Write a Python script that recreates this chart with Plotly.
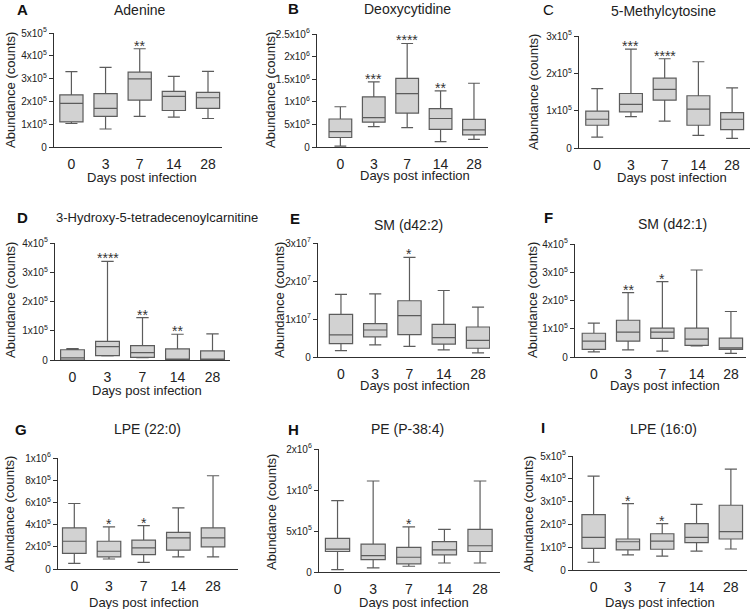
import plotly.graph_objects as go

W, H = 750, 609
days = ["0", "3", "7", "14", "28"]

# ---- data: lower whisker, Q1, median, Q3, upper whisker per day ----
A_lo = [1.03e5, 0.79e5, 1.34e5, 1.31e5, 1.25e5]
A_q1 = [1.10e5, 1.34e5, 2.06e5, 1.60e5, 1.69e5]
A_md = [1.91e5, 1.69e5, 2.99e5, 2.22e5, 2.16e5]
A_q3 = [2.29e5, 2.34e5, 3.28e5, 2.44e5, 2.40e5]
A_hi = [3.31e5, 3.49e5, 4.31e5, 3.10e5, 3.32e5]
A_st = ["", "", "**", "", ""]

B_lo = [0.02e6, 0.45e6, 0.43e6, 0.12e6, 0.17e6]
B_q1 = [0.21e6, 0.55e6, 0.75e6, 0.39e6, 0.27e6]
B_md = [0.34e6, 0.65e6, 1.18e6, 0.63e6, 0.38e6]
B_q3 = [0.62e6, 1.11e6, 1.52e6, 0.85e6, 0.61e6]
B_hi = [0.89e6, 1.44e6, 2.29e6, 1.24e6, 1.41e6]
B_st = ["", "***", "****", "**", ""]

C_lo = [0.29e5, 0.84e5, 0.72e5, 0.34e5, 0.26e5]
C_q1 = [0.61e5, 0.97e5, 1.28e5, 0.61e5, 0.49e5]
C_md = [0.77e5, 1.17e5, 1.57e5, 1.04e5, 0.77e5]
C_q3 = [0.99e5, 1.46e5, 1.87e5, 1.40e5, 0.95e5]
C_hi = [1.59e5, 2.65e5, 2.39e5, 2.31e5, 1.61e5]
C_st = ["", "***", "****", "", ""]

D_lo = [0.00e5, 0.14e5, 0.08e5, 0.00e5, 0.00e5]
D_q1 = [0.00e5, 0.15e5, 0.09e5, 0.00e5, 0.00e5]
D_md = [0.07e5, 0.46e5, 0.25e5, 0.00e5, 0.035e5]
D_q3 = [0.35e5, 0.64e5, 0.49e5, 0.38e5, 0.31e5]
D_hi = [0.39e5, 3.37e5, 1.45e5, 0.88e5, 0.89e5]
D_st = ["", "****", "**", "**", ""]

E_lo = [0.17e7, 0.32e7, 0.28e7, 0.19e7, 0.11e7]
E_q1 = [0.35e7, 0.53e7, 0.59e7, 0.34e7, 0.23e7]
E_md = [0.58e7, 0.71e7, 1.09e7, 0.51e7, 0.44e7]
E_q3 = [1.12e7, 0.88e7, 1.48e7, 0.86e7, 0.79e7]
E_hi = [1.65e7, 1.66e7, 2.62e7, 1.75e7, 1.31e7]
E_st = ["", "", "*", "", ""]

F_lo = [0.18e5, 0.25e5, 0.21e5, 0.39e5, 0.13e5]
F_q1 = [0.27e5, 0.56e5, 0.66e5, 0.41e5, 0.27e5]
F_md = [0.56e5, 0.88e5, 0.88e5, 0.63e5, 0.32e5]
F_q3 = [0.84e5, 1.30e5, 1.02e5, 1.02e5, 0.67e5]
F_hi = [1.20e5, 2.28e5, 2.67e5, 3.08e5, 1.61e5]
F_st = ["", "**", "*", "", ""]

G_lo = [0.05e6, 0.09e6, 0.06e6, 0.11e6, 0.11e6]
G_q1 = [0.14e6, 0.11e6, 0.13e6, 0.17e6, 0.20e6]
G_md = [0.25e6, 0.16e6, 0.19e6, 0.28e6, 0.28e6]
G_q3 = [0.37e6, 0.25e6, 0.26e6, 0.33e6, 0.37e6]
G_hi = [0.59e6, 0.38e6, 0.39e6, 0.55e6, 0.84e6]
G_st = ["", "*", "*", "", ""]

H_lo = [0.03e6, 0.05e6, 0.07e6, 0.11e6, 0.11e6]
H_q1 = [0.25e6, 0.15e6, 0.10e6, 0.21e6, 0.25e6]
H_md = [0.28e6, 0.20e6, 0.18e6, 0.27e6, 0.32e6]
H_q3 = [0.41e6, 0.34e6, 0.30e6, 0.37e6, 0.52e6]
H_hi = [0.87e6, 1.11e6, 0.55e6, 0.52e6, 1.11e6]
H_st = ["", "", "*", "", ""]

I_lo = [0.34e5, 0.66e5, 0.61e5, 0.83e5, 0.92e5]
I_q1 = [0.95e5, 0.88e5, 0.91e5, 1.20e5, 1.36e5]
I_md = [1.43e5, 1.24e5, 1.27e5, 1.43e5, 1.68e5]
I_q3 = [2.43e5, 1.36e5, 1.59e5, 2.03e5, 2.84e5]
I_hi = [4.12e5, 2.91e5, 2.03e5, 2.88e5, 4.42e5]
I_st = ["", "*", "*", "", ""]

titles = ["Adenine", "Deoxycytidine", "5-Methylcytosine",
          "3-Hydroxy-5-tetradecenoylcarnitine", "SM (d42:2)", "SM (d42:1)",
          "LPE (22:0)", "PE (P-38:4)", "LPE (16:0)"]
letters = ["A", "B", "C", "D", "E", "F", "G", "H", "I"]

def sci(m, e):
    return f"{m}x10<sup>{e}</sup>"

A_ticks = [0, 1e5, 2e5, 3e5, 4e5, 5e5]
A_text = ["0"] + [sci(i, 5) for i in range(1, 6)]
B_ticks = [0, 5e5, 1e6, 1.5e6, 2e6, 2.5e6]
B_text = ["0", sci(5, 5), sci(1, 6), sci(1.5, 6), sci(2, 6), sci(2.5, 6)]
C_ticks = [0, 1e5, 2e5, 3e5]
C_text = ["0"] + [sci(i, 5) for i in range(1, 4)]
D_ticks = [0, 1e5, 2e5, 3e5, 4e5]
D_text = ["0"] + [sci(i, 5) for i in range(1, 5)]
E_ticks = [0, 1e7, 2e7, 3e7]
E_text = ["0"] + [sci(i, 7) for i in range(1, 4)]
F_ticks = D_ticks
F_text = D_text
G_ticks = [0, 2e5, 4e5, 6e5, 8e5, 1e6]
G_text = ["0", sci(2, 5), sci(4, 5), sci(6, 5), sci(8, 5), sci(1, 6)]
H_ticks = [0, 5e5, 1e6, 1.5e6]
H_text = ["0", sci(5, 5), sci(1, 6), sci(2, 6)]
I_ticks = [0, 1e5, 2e5, 3e5, 4e5, 5e5]
I_text = ["0"] + [sci(i, 5) for i in range(1, 6)]

panels = [
    (A_lo, A_q1, A_md, A_q3, A_hi, A_st, A_ticks, A_text),
    (B_lo, B_q1, B_md, B_q3, B_hi, B_st, B_ticks, B_text),
    (C_lo, C_q1, C_md, C_q3, C_hi, C_st, C_ticks, C_text),
    (D_lo, D_q1, D_md, D_q3, D_hi, D_st, D_ticks, D_text),
    (E_lo, E_q1, E_md, E_q3, E_hi, E_st, E_ticks, E_text),
    (F_lo, F_q1, F_md, F_q3, F_hi, F_st, F_ticks, F_text),
    (G_lo, G_q1, G_md, G_q3, G_hi, G_st, G_ticks, G_text),
    (H_lo, H_q1, H_md, H_q3, H_hi, H_st, H_ticks, H_text),
    (I_lo, I_q1, I_md, I_q3, I_hi, I_st, I_ticks, I_text),
]

# ---- layout geometry (pixels) ----
# plot area: x0, x1, ytop, ybottom ; x range in category units
geom = [
    (54, 222, 33, 147, -0.51, 4.41),
    (317, 488, 34, 147, -0.70, 4.42),
    (579, 750, 36, 148, -0.54, 4.53),
    (55, 230, 243, 360, -0.50, 4.50),
    (318, 490, 243, 357, -0.67, 4.35),
    (575, 746, 244, 357, -0.55, 4.44),
    (58, 238, 458, 569, -0.47, 4.72),
    (319, 500, 449, 572, -0.52, 4.56),
    (573, 747, 456, 570, -0.60, 4.47),
]
title_pos = [(140, 10), (407, 9), (663, 11), (157, 217), (408, 225), (672, 224),
             (147, 429), (407, 429), (663, 429)]
title_size = [14, 14, 14, 13, 14, 14, 14, 14, 14]
letter_pos = [(22, 10), (293, 9), (548, 10), (22, 217), (295, 218), (548, 217),
              (21, 429), (293, 429), (543, 427)]
ytitle_pos = [(10, 90), (270, 90), (533, 92), (10, 300), (279, 300), (532, 300),
              (9, 514), (271, 512), (528, 514)]
xtitle_pos = [(142, 178), (415, 175), (672, 177), (147, 390), (415, 385), (665, 385),
              (144, 602), (414, 602), (660, 602)]

FONT = "Arial, Liberation Sans, sans-serif"
BOXLINE = "#5c5c5c"
AXIS = "#303030"

fig = go.Figure()
annotations = []
layout = {}

def px(x, y):
    return x / W, 1 - y / H

for i, (lo, q1, md, q3, hi, st, tv, tt) in enumerate(panels):
    n = "" if i == 0 else str(i + 1)
    x0, x1, yt, yb, r0, r1 = geom[i]
    fig.add_trace(go.Box(
        x=days, lowerfence=lo, q1=q1, median=md, q3=q3, upperfence=hi,
        xaxis="x" + n, yaxis="y" + n,
        fillcolor="#d2d2d2", line=dict(color=BOXLINE, width=1.2),
        width=0.68, whiskerwidth=0.52, boxpoints=False, showlegend=False,
        hoverinfo="skip",
    ))
    layout["xaxis" + n] = dict(
        domain=[x0 / W, x1 / W], anchor="y" + n, type="category",
        range=[r0, r1], showline=True, linecolor=AXIS, linewidth=1.4,
        ticks="", showgrid=False, zeroline=False, ticklabelstandoff=4,
        tickfont=dict(family=FONT, size=14, color="#222"), automargin=False,
    )
    layout["yaxis" + n] = dict(
        domain=[1 - yb / H, 1 - yt / H], anchor="x" + n,
        range=[0, tv[-1]], tickvals=tv, ticktext=tt,
        showline=True, linecolor=AXIS, linewidth=1.4,
        ticks="outside", ticklen=4, tickwidth=1.2, tickcolor=AXIS,
        showgrid=False, zeroline=False,
        tickfont=dict(family=FONT, size=10, color="#222"), automargin=False,
    )
    # significance stars above the upper whisker
    for j, (h, s) in enumerate(zip(hi, st)):
        if s:
            annotations.append(dict(
                x=j, y=h, xref="x" + n, yref="y" + n, text=s, showarrow=False,
                xanchor="center", yanchor="bottom", yshift=-7,
                font=dict(family=FONT, size=14, color="#333"),
            ))
    tx, ty = px(*title_pos[i])
    annotations.append(dict(x=tx, y=ty, xref="paper", yref="paper", text=titles[i],
                            showarrow=False, xanchor="center", yanchor="middle",
                            font=dict(family=FONT, size=title_size[i], color="#222")))
    lx, ly = px(*letter_pos[i])
    bold = letters[i] != "C"
    annotations.append(dict(x=lx, y=ly, xref="paper", yref="paper",
                            text=("<b>%s</b>" % letters[i]) if bold else letters[i],
                            showarrow=False, xanchor="center", yanchor="middle",
                            font=dict(family=FONT, size=15, color="#111")))
    ax, ay = px(*ytitle_pos[i])
    annotations.append(dict(x=ax, y=ay, xref="paper", yref="paper",
                            text="Abundance (counts)", textangle=-90,
                            showarrow=False, xanchor="center", yanchor="middle",
                            font=dict(family=FONT, size=13, color="#222")))
    bx, by = px(*xtitle_pos[i])
    annotations.append(dict(x=bx, y=by, xref="paper", yref="paper",
                            text="Days post infection",
                            showarrow=False, xanchor="center", yanchor="middle",
                            font=dict(family=FONT, size=13, color="#222")))

fig.update_layout(
    width=W, height=H, autosize=False,
    margin=dict(l=0, r=0, t=0, b=0),
    paper_bgcolor="white", plot_bgcolor="white",
    annotations=annotations, showlegend=False,
    **layout,
)

fig.write_html("out.html", config={"displayModeBar": False},
               post_script="document.body.style.margin='0';document.body.style.padding='0';")
